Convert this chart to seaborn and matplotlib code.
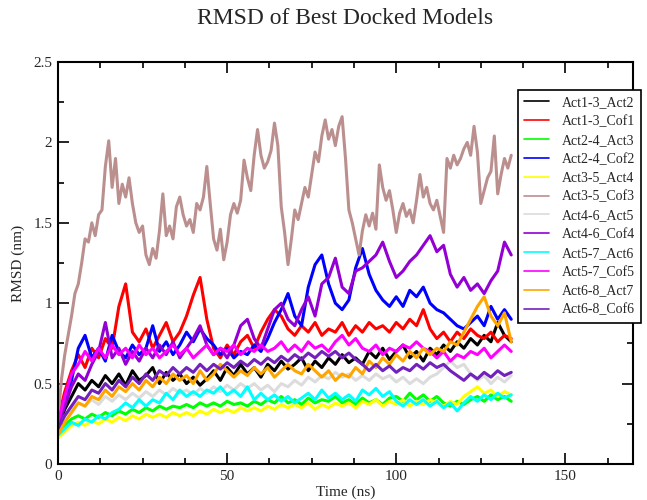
import numpy as np
import pandas as pd
import matplotlib
matplotlib.use("Agg")
import matplotlib.pyplot as plt
from matplotlib.ticker import MultipleLocator, FormatStrFormatter
import seaborn as sns

# ---------------------------------------------------------------- data
# time grids (ns)
time_fine = list(range(0, 135, 1))
time_coarse = list(range(0, 135, 2))

labels = ["Act1-3_Act2", "Act1-3_Cof1", "Act2-4_Act3", "Act2-4_Cof2",
          "Act3-5_Act4", "Act3-5_Cof3", "Act4-6_Act5", "Act4-6_Cof4",
          "Act5-7_Act6", "Act5-7_Cof5", "Act6-8_Act7", "Act6-8_Cof6"]

colors = ["#000000", "#FF0000", "#00FF00", "#0000FF", "#FFFF00", "#BC8F8F",
          "#DCDCDC", "#9400D3", "#00FFFF", "#FF00FF", "#FFA500", "#7221BC"]

act1_3_act2 = [0.22, 0.34, 0.42, 0.50, 0.46, 0.52, 0.48, 0.55, 0.50, 0.56, 0.49, 0.58,
               0.52, 0.55, 0.60, 0.50, 0.57, 0.52, 0.56, 0.50, 0.54, 0.49, 0.53, 0.58,
               0.52, 0.60, 0.55, 0.62, 0.56, 0.60, 0.54, 0.62, 0.58, 0.64, 0.59, 0.62,
               0.66, 0.58, 0.64, 0.60, 0.66, 0.62, 0.68, 0.63, 0.66, 0.62, 0.70, 0.66,
               0.72, 0.65, 0.70, 0.74, 0.66, 0.70, 0.64, 0.72, 0.68, 0.74, 0.70, 0.76,
               0.72, 0.78, 0.74, 0.80, 0.76, 0.88, 0.80, 0.76]

act1_3_cof1 = [0.28, 0.45, 0.58, 0.68, 0.60, 0.72, 0.66, 0.78, 0.72, 0.98, 1.12, 0.82,
               0.76, 0.84, 0.72, 0.80, 0.88, 0.76, 0.82, 0.92, 1.05, 1.16, 0.90, 0.72,
               0.66, 0.74, 0.68, 0.76, 0.80, 0.72, 0.82, 0.90, 0.96, 0.92, 0.84, 0.80,
               0.86, 0.82, 0.88, 0.80, 0.84, 0.82, 0.88, 0.80, 0.86, 0.82, 0.88, 0.84,
               0.86, 0.82, 0.88, 0.84, 0.90, 0.86, 0.96, 0.84, 0.78, 0.82, 0.76, 0.82,
               0.78, 0.84, 0.80, 0.78, 0.82, 0.76, 0.80, 0.78]

act2_4_act3 = [0.18, 0.24, 0.28, 0.30, 0.28, 0.31, 0.29, 0.32, 0.30, 0.33, 0.31, 0.34,
               0.32, 0.35, 0.33, 0.36, 0.34, 0.36, 0.35, 0.37, 0.35, 0.38, 0.36, 0.38,
               0.36, 0.39, 0.37, 0.38, 0.36, 0.39, 0.37, 0.40, 0.38, 0.42, 0.38, 0.40,
               0.37, 0.41, 0.38, 0.40, 0.39, 0.42, 0.38, 0.40, 0.37, 0.41, 0.38, 0.40,
               0.37, 0.41, 0.42, 0.39, 0.44, 0.40, 0.43, 0.39, 0.42, 0.38, 0.36, 0.39,
               0.37, 0.40, 0.42, 0.39, 0.43, 0.40, 0.42, 0.39]

act2_4_cof2 = [0.22, 0.38, 0.52, 0.72, 0.80, 0.66, 0.72, 0.64, 0.80, 0.70, 0.66, 0.74,
               0.68, 0.72, 0.86, 0.70, 0.76, 0.68, 0.74, 0.82, 0.76, 0.84, 0.78, 0.74,
               0.68, 0.72, 0.66, 0.70, 0.68, 0.74, 0.70, 0.78, 0.88, 0.96, 1.06, 0.92,
               0.86, 1.10, 1.24, 1.30, 1.12, 1.00, 0.96, 1.02, 1.22, 1.34, 1.18, 1.08,
               1.02, 0.98, 1.04, 0.98, 1.08, 1.04, 1.10, 1.00, 0.96, 0.94, 0.90, 0.86,
               0.84, 0.88, 0.92, 0.86, 0.98, 0.90, 0.96, 0.90]

act3_5_act4 = [0.16, 0.20, 0.24, 0.26, 0.24, 0.27, 0.25, 0.28, 0.26, 0.29, 0.27, 0.30,
               0.28, 0.31, 0.29, 0.31, 0.29, 0.32, 0.30, 0.32, 0.30, 0.33, 0.31, 0.34,
               0.32, 0.34, 0.32, 0.35, 0.33, 0.35, 0.33, 0.36, 0.34, 0.37, 0.35, 0.37,
               0.35, 0.38, 0.34, 0.37, 0.35, 0.38, 0.36, 0.38, 0.35, 0.39, 0.37, 0.40,
               0.36, 0.39, 0.37, 0.40, 0.36, 0.39, 0.37, 0.40, 0.38, 0.36, 0.39, 0.37,
               0.42, 0.45, 0.48, 0.44, 0.46, 0.42, 0.45, 0.43]

act3_5_cof3 = [0.28, 0.52, 0.68, 0.80, 0.92, 1.06, 1.12, 1.25, 1.40, 1.38, 1.50, 1.42,
               1.55, 1.58, 1.85, 2.01, 1.72, 1.90, 1.62, 1.74, 1.66, 1.78, 1.62, 1.50,
               1.44, 1.48, 1.30, 1.24, 1.34, 1.28, 1.45, 1.68, 1.42, 1.48, 1.40, 1.60,
               1.66, 1.55, 1.48, 1.52, 1.44, 1.62, 1.58, 1.66, 1.85, 1.62, 1.40, 1.33,
               1.46, 1.27, 1.38, 1.55, 1.62, 1.56, 1.64, 1.89, 1.78, 1.70, 1.92, 2.08,
               1.92, 1.84, 1.88, 1.95, 2.12, 1.98, 1.60, 1.44, 1.24, 1.40, 1.58, 1.52,
               1.62, 1.72, 1.66, 1.80, 1.94, 1.88, 2.04, 2.14, 2.02, 2.08, 1.98, 2.10,
               2.16, 1.90, 1.58, 1.50, 1.40, 1.30, 1.45, 1.55, 1.48, 1.56, 1.46, 1.86,
               1.72, 1.64, 1.70, 1.58, 1.44, 1.56, 1.62, 1.54, 1.58, 1.50, 1.64, 1.80,
               1.66, 1.72, 1.62, 1.58, 1.64, 1.54, 1.44, 1.90, 1.84, 1.92, 1.86, 1.90,
               1.96, 2.00, 1.92, 2.10, 1.94, 1.62, 1.70, 1.78, 1.82, 2.04, 1.68, 1.80,
               1.90, 1.84, 1.92]

act4_6_act5 = [0.22, 0.30, 0.34, 0.38, 0.36, 0.40, 0.37, 0.42, 0.39, 0.43, 0.40, 0.44,
               0.41, 0.45, 0.42, 0.46, 0.43, 0.47, 0.44, 0.46, 0.43, 0.47, 0.44, 0.48,
               0.45, 0.49, 0.46, 0.50, 0.47, 0.50, 0.46, 0.49, 0.45, 0.50, 0.48, 0.52,
               0.49, 0.54, 0.51, 0.55, 0.53, 0.57, 0.54, 0.56, 0.52, 0.55, 0.52, 0.56,
               0.53, 0.55, 0.51, 0.54, 0.50, 0.53, 0.50, 0.54, 0.56, 0.60, 0.64, 0.60,
               0.62, 0.56, 0.52, 0.55, 0.50, 0.54, 0.51, 0.55]

act4_6_cof4 = [0.24, 0.36, 0.48, 0.56, 0.52, 0.62, 0.70, 0.88, 0.66, 0.72, 0.62, 0.70,
               0.64, 0.72, 0.66, 0.74, 0.68, 0.76, 0.66, 0.72, 0.78, 0.86, 0.74, 0.68,
               0.72, 0.66, 0.74, 0.86, 0.90, 0.78, 0.72, 0.84, 0.96, 1.00, 0.90, 0.86,
               0.96, 1.04, 0.92, 1.12, 1.16, 1.28, 1.10, 1.06, 1.20, 1.22, 1.26, 1.30,
               1.38, 1.26, 1.16, 1.20, 1.26, 1.30, 1.36, 1.42, 1.32, 1.36, 1.18, 1.10,
               1.16, 1.08, 1.12, 1.06, 1.14, 1.20, 1.38, 1.30]

act5_7_act6 = [0.18, 0.22, 0.26, 0.24, 0.28, 0.26, 0.30, 0.28, 0.32, 0.34, 0.38, 0.35,
               0.40, 0.36, 0.40, 0.38, 0.44, 0.40, 0.46, 0.42, 0.45, 0.42, 0.46, 0.44,
               0.48, 0.43, 0.46, 0.42, 0.48, 0.40, 0.44, 0.40, 0.43, 0.39, 0.42, 0.38,
               0.41, 0.44, 0.40, 0.46, 0.41, 0.44, 0.40, 0.43, 0.39, 0.46, 0.43, 0.47,
               0.42, 0.45, 0.39, 0.36, 0.40, 0.37, 0.40, 0.36, 0.39, 0.35, 0.38, 0.33,
               0.38, 0.42, 0.39, 0.43, 0.40, 0.44, 0.41, 0.43]

act5_7_cof5 = [0.26, 0.42, 0.56, 0.62, 0.70, 0.64, 0.72, 0.66, 0.74, 0.68, 0.72, 0.66,
               0.74, 0.68, 0.72, 0.66, 0.70, 0.74, 0.68, 0.72, 0.66, 0.70, 0.74, 0.68,
               0.72, 0.70, 0.74, 0.68, 0.72, 0.70, 0.74, 0.70, 0.72, 0.76, 0.70, 0.74,
               0.70, 0.76, 0.72, 0.74, 0.70, 0.76, 0.80, 0.74, 0.78, 0.72, 0.70, 0.74,
               0.68, 0.72, 0.70, 0.74, 0.72, 0.76, 0.72, 0.70, 0.66, 0.70, 0.64, 0.68,
               0.66, 0.70, 0.68, 0.72, 0.66, 0.70, 0.74, 0.70]

act6_8_act7 = [0.18, 0.26, 0.32, 0.38, 0.36, 0.42, 0.40, 0.46, 0.42, 0.48, 0.45, 0.50,
               0.46, 0.52, 0.48, 0.54, 0.50, 0.56, 0.52, 0.55, 0.50, 0.58, 0.52, 0.56,
               0.62, 0.58, 0.54, 0.58, 0.55, 0.60, 0.56, 0.60, 0.54, 0.58, 0.62, 0.58,
               0.56, 0.62, 0.58, 0.54, 0.58, 0.52, 0.56, 0.54, 0.60, 0.56, 0.64, 0.60,
               0.66, 0.62, 0.68, 0.64, 0.70, 0.66, 0.72, 0.68, 0.72, 0.70, 0.76, 0.74,
               0.82, 0.90, 0.98, 1.04, 0.92, 0.86, 0.94, 0.76]

act6_8_cof6 = [0.22, 0.30, 0.36, 0.42, 0.40, 0.46, 0.44, 0.50, 0.46, 0.52, 0.48, 0.54,
               0.50, 0.56, 0.52, 0.58, 0.55, 0.60, 0.56, 0.60, 0.57, 0.62, 0.58, 0.62,
               0.59, 0.63, 0.60, 0.64, 0.61, 0.65, 0.62, 0.66, 0.63, 0.67, 0.64, 0.68,
               0.65, 0.69, 0.66, 0.70, 0.67, 0.70, 0.66, 0.69, 0.65, 0.62, 0.58, 0.62,
               0.58, 0.61, 0.57, 0.60, 0.58, 0.62, 0.59, 0.63, 0.60, 0.62, 0.58, 0.55,
               0.52, 0.56, 0.53, 0.57, 0.54, 0.58, 0.55, 0.57]

series = [act1_3_act2, act1_3_cof1, act2_4_act3, act2_4_cof2, act3_5_act4,
          act3_5_cof3, act4_6_act5, act4_6_cof4, act5_7_act6, act5_7_cof5,
          act6_8_act7, act6_8_cof6]

# ---------------------------------------------------------------- long table
frames = []
for name, vals in zip(labels, series):
    t = time_fine if len(vals) == len(time_fine) else time_coarse
    frames.append(pd.DataFrame({"time": t, "rmsd": vals, "model": name}))
df = pd.concat(frames, ignore_index=True)

# ---------------------------------------------------------------- plot
sns.set_style("ticks")
plt.rcParams["font.family"] = ["Liberation Serif", "DejaVu Serif"]

fig = plt.figure(figsize=(6.47, 5.0), dpi=100)
ax = fig.add_axes([58 / 647, 1 - 464 / 500, (633 - 58) / 647, (464 - 62) / 500])

sns.lineplot(data=df, x="time", y="rmsd", hue="model", hue_order=labels,
             palette=dict(zip(labels, colors)), estimator=None, sort=True,
             linewidth=2.2, ax=ax, legend=True)

ax.set_xlim(0, 170)
ax.set_ylim(0, 2.5)
ax.xaxis.set_major_locator(MultipleLocator(50))
ax.xaxis.set_minor_locator(MultipleLocator(12.5))
ax.yaxis.set_major_locator(MultipleLocator(0.5))
ax.yaxis.set_minor_locator(MultipleLocator(0.25))
ax.xaxis.set_major_formatter(FormatStrFormatter("%g"))
ax.yaxis.set_major_formatter(FormatStrFormatter("%g"))
ax.tick_params(which="both", direction="in", top=True, right=True,
               width=1.2, color="black", labelsize=11, pad=4)
ax.tick_params(which="major", length=8)
ax.tick_params(which="minor", length=4.5)
for s in ax.spines.values():
    s.set_linewidth(1.5)
    s.set_color("black")

ax.set_xlabel("Time (ns)", fontsize=11, labelpad=2)
ax.set_ylabel("RMSD (nm)", fontsize=11, labelpad=6)
fig.text(345.5 / 647, 1 - 18 / 500, "RMSD of Best Docked Models",
         ha="center", va="center", fontsize=17)

# legend box placed at the figure's right edge, over the axes frame
handles, lbls = ax.get_legend_handles_labels()
ax.get_legend().remove()
leg = fig.legend(handles, lbls, loc="upper left",
                 bbox_to_anchor=(518 / 647, 1 - 90 / 500),
                 fontsize=10, frameon=True, fancybox=False, framealpha=1,
                 edgecolor="black", handlelength=1.8, handletextpad=0.9,
                 labelspacing=0.42, borderpad=0.45, borderaxespad=0)
leg.get_frame().set_linewidth(1.2)
for line in leg.get_lines():
    line.set_linewidth(1.2)

fig.savefig("out.png", dpi=100)
